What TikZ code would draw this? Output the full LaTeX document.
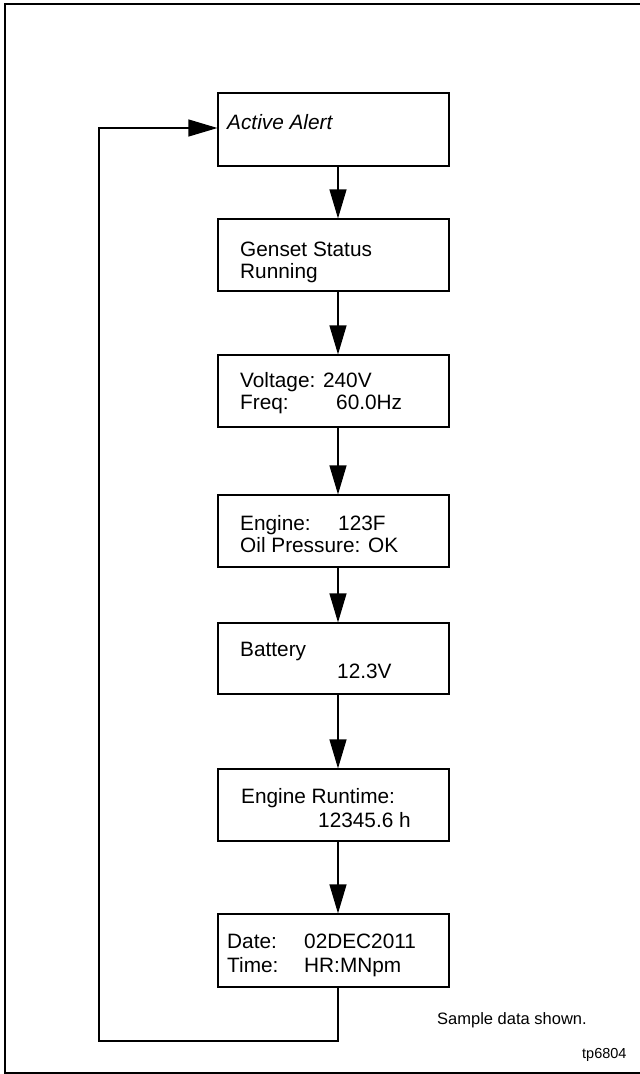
\documentclass[tikz,border=0pt]{standalone}
\usepackage{fontspec}
\setmainfont{Liberation Sans}
\usetikzlibrary{arrows.meta}
\begin{document}
\begin{tikzpicture}[x=1pt,y=-1pt,
  box/.style={draw=black,line width=1.2pt,minimum width=231pt,minimum height=72pt,inner sep=0pt},
  txt/.style={anchor=base west,inner sep=0pt,font=\fontsize{20.8}{24}\selectfont},
  arr/.style={draw=black,line width=1.2pt,-{Triangle[length=29pt,width=17pt]}},
  frame/.style={draw=black,line width=2.4pt}]
\useasboundingbox (0,0) rectangle (640,1074);
\draw[frame] (5,4) rectangle (650,1073);
% boxes
\node[box,minimum height=73pt] (b1) at (333.5,129.5) {};
\node[box] (b2) at (333.5,255) {};
\node[box] (b3) at (333.5,391) {};
\node[box] (b4) at (333.5,531) {};
\node[box,minimum height=71pt] (b5) at (333.5,658.5) {};
\node[box] (b6) at (333.5,805) {};
\node[box,minimum height=73pt] (b7) at (333.5,950.5) {};
% texts
\node[txt,font=\fontsize{20.8}{24}\selectfont\itshape] (t1) at (227,129) {Active Alert};
\node[txt] (t2a) at (240,256) {Genset Status};
\node[txt] (t2b) at (240,278) {Running};
\node[txt] (t3a) at (240,387) {Voltage: 240V};
\node[txt] (t3b) at (240,409) {Freq:};
\node[txt] (t3c) at (336,409) {60.0Hz};
\node[txt] (t4a) at (240,530) {Engine:};
\node[txt] (t4b) at (338,530) {123F};
\node[txt] (t4c) at (240,552) {Oil Pressure: OK};
\node[txt] (t5a) at (240,656) {Battery};
\node[txt] (t5b) at (337,678) {12.3V};
\node[txt] (t6a) at (241,803) {Engine Runtime:};
\node[txt] (t6b) at (318,827) {12345.6 h};
\node[txt] (t7a) at (227,948) {Date:};
\node[txt] (t7b) at (304,948) {02DEC2011};
\node[txt] (t7c) at (227,972) {Time:};
\node[txt] (t7d) at (304,972) {HR:MNpm};
\node[txt,font=\fontsize{16.5}{19}\selectfont] (note) at (437,1024) {Sample data shown.};
\node[txt,font=\fontsize{14.5}{17}\selectfont] (tp) at (582,1058) {tp6804};
% connectors
\foreach \a/\b in {b1/b2,b2/b3,b3/b4,b4/b5,b5/b6,b6/b7}
  \draw[arr] ([xshift=4.5pt]\a.south) -- ([xshift=4.5pt]\b.north);
\coordinate (lb) at (99,1041);
\coordinate (lt) at (99,128);
\draw[arr] ([xshift=4.5pt]b7.south) |- (lb) -- (lt) -- (lt -| b1.west);
\end{tikzpicture}
\end{document}
